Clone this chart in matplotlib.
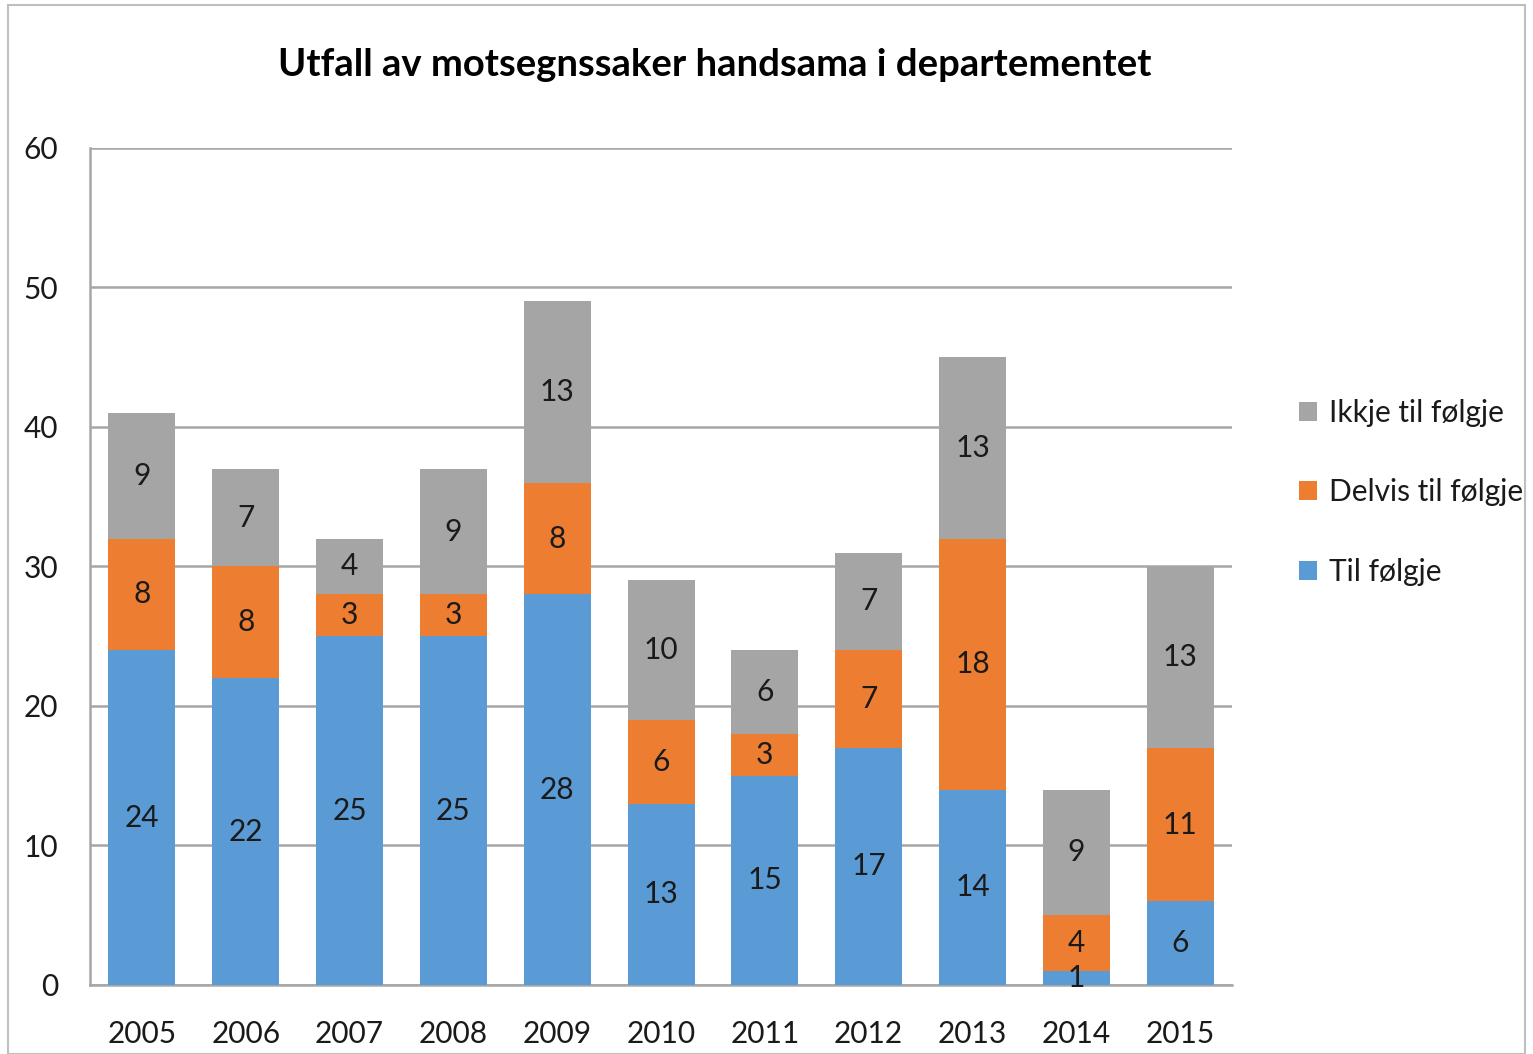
import matplotlib.pyplot as plt
from matplotlib.patches import Rectangle

years = ["2005", "2006", "2007", "2008", "2009", "2010", "2011", "2012", "2013", "2014", "2015"]
til_folgje = [24, 22, 25, 25, 28, 13, 15, 17, 14, 1, 6]
delvis = [8, 8, 3, 3, 8, 6, 3, 7, 18, 4, 11]
ikkje = [9, 7, 4, 9, 13, 10, 6, 7, 13, 9, 13]

plt.rcParams["font.family"] = ["Lato", "DejaVu Sans"]

fig = plt.figure(figsize=(15.33, 10.54), dpi=100)
ax = fig.add_axes([0.0587, 0.0655, 0.745, 0.7941])

x = list(range(len(years)))
w = 0.645
bottom2 = til_folgje
bottom3 = [a + b for a, b in zip(til_folgje, delvis)]

series = [
    ("Til følgje", til_folgje, [0] * len(years), "#5B9BD5"),
    ("Delvis til følgje", delvis, bottom2, "#ED7D31"),
    ("Ikkje til følgje", ikkje, bottom3, "#A5A5A5"),
]
handles = []
for name, vals, bot, col in series:
    bars = ax.bar(x, vals, w, bottom=bot, color=col, label=name, zorder=3)
    handles.append(bars)
    for xi, v, b in zip(x, vals, bot):
        ax.text(xi, b + v / 2, str(v), ha="center", va="center", fontsize=21.5,
                color="#1a1a1a", zorder=4)

ax.set_xlim(-0.5, len(years) - 0.5)
ax.set_ylim(0, 60)
ax.set_yticks(range(0, 61, 10))
ax.set_xticks(x)
ax.set_xticklabels(years)
ax.tick_params(axis="both", length=0, labelsize=21.5, colors="#1a1a1a")
ax.tick_params(axis="y", pad=23)
ax.tick_params(axis="x", pad=25)
ax.yaxis.grid(True, color="#A6A6A6", linewidth=1.8, zorder=0)
ax.set_axisbelow(True)
for s in ["top", "right"]:
    ax.spines[s].set_visible(False)
for s in ["left", "bottom"]:
    ax.spines[s].set_color("#A6A6A6")
    ax.spines[s].set_linewidth(1.8)

fig.text(0.466, 0.938, "Utfall av motsegnssaker handsama i departementet",
         ha="center", va="center", fontsize=27.5, fontweight="bold", color="#000000")

leg = fig.legend(handles=handles[::-1], loc="center left", bbox_to_anchor=(0.830, 0.533),
                 frameon=False, fontsize=21.5, handlelength=0.6, handleheight=0.6,
                 handletextpad=0.4, labelspacing=1.72)
for t in leg.get_texts():
    t.set_color("#1a1a1a")

fig.patches.append(Rectangle((0.005, 0.0), 0.99, 0.995, transform=fig.transFigure,
                             fill=False, edgecolor="#BFBFBF", linewidth=1.5))

fig.savefig("out.png", dpi=100)
